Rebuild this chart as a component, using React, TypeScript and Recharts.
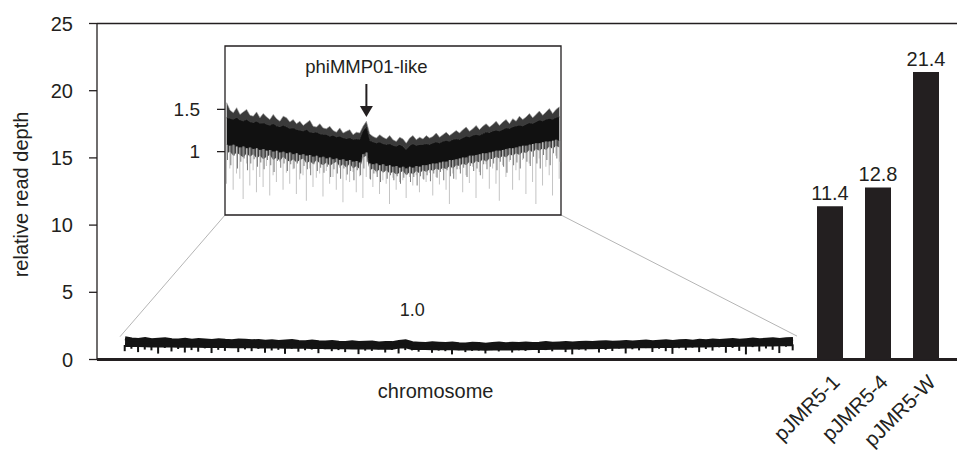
import {
  Area,
  Bar,
  BarChart,
  ComposedChart,
  LabelList,
  ReferenceArea,
  ReferenceDot,
  ReferenceLine,
  XAxis,
  YAxis,
} from 'recharts'

const INK = '#231f20'
const FONT = '"Liberation Sans", Arial, Helvetica, sans-serif'
const W = 957
const H = 451

// chromosome read depth in 101 bins along the chromosome
const fringeTop = [
  1.58, 1.49, 1.46, 1.52, 1.44, 1.47, 1.50, 1.43, 1.42, 1.47,
  1.40, 1.45, 1.41, 1.38, 1.44, 1.39, 1.36, 1.42, 1.40, 1.35,
  1.38, 1.33, 1.36, 1.31, 1.34, 1.37, 1.30, 1.29, 1.33, 1.28,
  1.27, 1.30, 1.25, 1.23, 1.28, 1.22, 1.24, 1.26, 1.20, 1.23,
  1.22, 1.30, 1.36, 1.21, 1.18, 1.16, 1.20, 1.17, 1.15, 1.19,
  1.14, 1.12, 1.17, 1.15, 1.10, 1.16, 1.19, 1.14, 1.17, 1.15,
  1.19, 1.16, 1.18, 1.22, 1.17, 1.20, 1.23, 1.19, 1.22, 1.25,
  1.22, 1.26, 1.29, 1.24, 1.27, 1.31, 1.26, 1.30, 1.33, 1.29,
  1.32, 1.36, 1.31, 1.35, 1.38, 1.33, 1.39, 1.36, 1.42, 1.38,
  1.41, 1.45, 1.40, 1.44, 1.48, 1.43, 1.47, 1.51, 1.45, 1.50,
  1.53,
]
const coreTop = [
  1.40, 1.39, 1.38, 1.40, 1.37, 1.36, 1.38, 1.35, 1.34, 1.36,
  1.33, 1.34, 1.32, 1.31, 1.33, 1.30, 1.29, 1.31, 1.29, 1.27,
  1.28, 1.26, 1.25, 1.24, 1.26, 1.23, 1.22, 1.23, 1.21, 1.20,
  1.20, 1.18, 1.19, 1.17, 1.18, 1.16, 1.15, 1.16, 1.14, 1.15,
  1.14, 1.24, 1.29, 1.13, 1.11, 1.10, 1.11, 1.09, 1.08, 1.09,
  1.07, 1.06, 1.08, 1.06, 1.02, 1.07, 1.09, 1.07, 1.08, 1.08,
  1.09, 1.08, 1.10, 1.11, 1.10, 1.12, 1.13, 1.12, 1.14, 1.15,
  1.14, 1.16, 1.18, 1.17, 1.19, 1.20, 1.19, 1.21, 1.23, 1.22,
  1.24, 1.25, 1.24, 1.26, 1.28, 1.27, 1.29, 1.30, 1.31, 1.30,
  1.32, 1.34, 1.33, 1.35, 1.37, 1.36, 1.38, 1.39, 1.38, 1.40,
  1.41,
]
const coreBottom = [
  1.08, 1.07, 1.08, 1.06, 1.05, 1.06, 1.04, 1.05, 1.03, 1.04,
  1.02, 1.03, 1.01, 1.02, 1.00, 1.01, 0.99, 1.00, 0.98, 0.99,
  0.97, 0.98, 0.96, 0.97, 0.95, 0.96, 0.94, 0.95, 0.93, 0.94,
  0.92, 0.93, 0.91, 0.92, 0.90, 0.91, 0.89, 0.90, 0.88, 0.89,
  0.87, 0.97, 0.99, 0.86, 0.85, 0.86, 0.84, 0.85, 0.83, 0.84,
  0.82, 0.83, 0.81, 0.82, 0.80, 0.82, 0.81, 0.83, 0.82, 0.84,
  0.84, 0.85, 0.86, 0.86, 0.87, 0.88, 0.88, 0.90, 0.90, 0.91,
  0.92, 0.93, 0.93, 0.95, 0.95, 0.96, 0.97, 0.98, 0.98, 0.99,
  1.00, 1.01, 1.01, 1.02, 1.03, 1.04, 1.04, 1.05, 1.06, 1.07,
  1.07, 1.08, 1.09, 1.10, 1.10, 1.11, 1.12, 1.12, 1.13, 1.14,
  1.13,
]
const shadowBottom = [
  0.98, 1.00, 0.95, 0.99, 0.96, 0.93, 0.98, 0.94, 0.97, 0.92,
  0.95, 0.91, 0.94, 0.96, 0.90, 0.93, 0.89, 0.94, 0.90, 0.88,
  0.91, 0.87, 0.90, 0.92, 0.86, 0.89, 0.85, 0.90, 0.86, 0.84,
  0.87, 0.83, 0.86, 0.88, 0.82, 0.85, 0.81, 0.86, 0.80, 0.83,
  0.79, 0.93, 0.95, 0.78, 0.80, 0.76, 0.79, 0.75, 0.78, 0.74,
  0.76, 0.73, 0.75, 0.77, 0.72, 0.76, 0.73, 0.77, 0.74, 0.78,
  0.76, 0.79, 0.77, 0.80, 0.78, 0.81, 0.79, 0.83, 0.80, 0.84,
  0.83, 0.86, 0.84, 0.88, 0.85, 0.89, 0.87, 0.91, 0.88, 0.92,
  0.91, 0.94, 0.92, 0.95, 0.93, 0.97, 0.95, 0.98, 0.96, 1.00,
  0.98, 1.02, 0.99, 1.03, 1.01, 1.04, 1.02, 1.06, 1.03, 1.07,
  1.05,
]
const spikeMid = [
  0.90, 0.84, 0.95, 0.80, 0.88, 0.92, 0.78, 0.86, 0.91, 0.82,
  0.87, 0.79, 0.90, 0.84, 0.76, 0.89, 0.81, 0.86, 0.77, 0.85,
  0.80, 0.86, 0.74, 0.83, 0.79, 0.72, 0.85, 0.77, 0.81, 0.75,
  0.82, 0.70, 0.79, 0.74, 0.68, 0.80, 0.73, 0.77, 0.66, 0.78,
  0.72, 0.80, 0.88, 0.67, 0.74, 0.70, 0.64, 0.76, 0.68, 0.72,
  0.66, 0.71, 0.62, 0.69, 0.73, 0.64, 0.70, 0.60, 0.71, 0.67,
  0.72, 0.65, 0.74, 0.69, 0.76, 0.66, 0.78, 0.71, 0.68, 0.79,
  0.74, 0.81, 0.70, 0.83, 0.77, 0.80, 0.72, 0.85, 0.79, 0.82,
  0.86, 0.78, 0.88, 0.82, 0.75, 0.90, 0.84, 0.87, 0.80, 0.92,
  0.88, 0.83, 0.94, 0.86, 0.80, 0.96, 0.90, 0.84, 0.98, 0.92,
  0.88,
]
const spikeLow = [
  0.62, 0.80, 0.55, 0.74, 0.68, 0.44, 0.86, 0.60, 0.78, 0.52,
  0.70, 0.58, 0.83, 0.48, 0.72, 0.64, 0.88, 0.55, 0.75, 0.62,
  0.79, 0.50, 0.67, 0.72, 0.42, 0.80, 0.58, 0.69, 0.74, 0.47,
  0.77, 0.62, 0.70, 0.55, 0.81, 0.40, 0.66, 0.64, 0.76, 0.52,
  0.71, 0.45, 0.70, 0.68, 0.58, 0.74, 0.50, 0.66, 0.62, 0.38,
  0.69, 0.55, 0.64, 0.66, 0.45, 0.70, 0.60, 0.72, 0.52, 0.68,
  0.64, 0.75, 0.48, 0.70, 0.61, 0.78, 0.55, 0.38, 0.74, 0.67,
  0.79, 0.52, 0.72, 0.63, 0.82, 0.45, 0.76, 0.68, 0.85, 0.56,
  0.80, 0.62, 0.42, 0.84, 0.70, 0.88, 0.55, 0.78, 0.66, 0.90,
  0.50, 0.86, 0.64, 0.38, 0.92, 0.60, 0.82, 0.72, 0.48, 0.95,
  0.68,
]

const plasmids = ['pJMR5-1', 'pJMR5-4', 'pJMR5-W']
const plasmidDepth = [11.4, 12.8, 21.4]

const depthTicks = [0, 5, 10, 15, 20, 25]
const insetTicks = [1, 1.5]
const phageBin = 42

const chromRows = fringeTop.map((top, i) => ({
  bin: i,
  top,
  coreTop: coreTop[i],
  coreBottom: coreBottom[i],
  shadow: shadowBottom[i],
  mid: spikeMid[i],
  low: spikeLow[i],
}))
const plasmidRows = plasmids.map((name, i) => ({ name, depth: plasmidDepth[i] }))

const textStyle = { fontFamily: FONT, fill: INK }

const DepthLabel = (props: any) => {
  const vb = props.viewBox || { x: 0, y: 23.5, width: 97, height: 336 }
  const cx = vb.x + 21
  const cy = vb.y + vb.height / 2 + 3
  return (
    <text
      x={cx}
      y={cy}
      transform={`rotate(-90, ${cx}, ${cy})`}
      textAnchor="middle"
      dominantBaseline="central"
      fontSize={20}
      {...textStyle}
    >
      relative read depth
    </text>
  )
}

const PlasmidTick = (props: any) => {
  const { x, y, payload } = props
  const tx = x + 11
  const ty = y + 22
  return (
    <text
      x={tx}
      y={ty}
      transform={`rotate(-45, ${tx}, ${ty})`}
      textAnchor="end"
      fontSize={20.5}
      {...textStyle}
    >
      {payload.value}
    </text>
  )
}

const MeanLabel = (props: any) => (
  <text x={props.cx} y={props.cy} dy="0.35em" textAnchor="middle" fontSize={18} {...textStyle}>
    1.0
  </text>
)

const PhageArrow = (props: any) => {
  const { cx, cy } = props
  return (
    <g>
      <text x={cx} y={cy - 44} textAnchor="middle" fontSize={18.5} {...textStyle}>
        phiMMP01-like
      </text>
      <line x1={cx} y1={cy - 33} x2={cx} y2={cy - 10} stroke={INK} strokeWidth={2} />
      <polygon points={`${cx - 6.5},${cy - 11} ${cx + 6.5},${cy - 11} ${cx},${cy}`} fill={INK} />
    </g>
  )
}

export default function App() {
  return (
    <div style={{ position: 'relative', width: W, height: H, background: '#fff' }}>
      <style>{'body{margin:0}'}</style>

      {/* main axes + whole chromosome trace */}
      <div style={{ position: 'absolute', left: 0, top: 0 }}>
        <ComposedChart
          width={W}
          height={H}
          data={chromRows}
          margin={{ top: 23.5, right: 0, bottom: 61.5, left: 0 }}
          barGap={0}
        >
          <XAxis
            dataKey="bin"
            type="number"
            domain={[-4.2, 124.55]}
            allowDataOverflow
            ticks={[46.5]}
            interval={0}
            tickFormatter={() => 'chromosome'}
            height={30}
            tickLine={false}
            tickSize={0}
            tickMargin={24}
            axisLine={{ stroke: INK, strokeWidth: 2.8 }}
            tick={{ fontSize: 20, ...textStyle }}
          />
          <YAxis
            domain={[0, 25]}
            ticks={depthTicks}
            interval={0}
            width={97}
            tickSize={8}
            tickMargin={16}
            axisLine={{ stroke: INK, strokeWidth: 1.3 }}
            tickLine={{ stroke: INK, strokeWidth: 1.3 }}
            tick={{ fontSize: 20, ...textStyle }}
            label={{ position: 'insideLeft', content: (p: any) => <DepthLabel {...p} /> }}
          />
          <ReferenceLine y={25} stroke={INK} strokeWidth={1.3} />
          <ReferenceLine
            segment={[{ x: -0.75, y: 1.7 }, { x: 14.97, y: 10.75 }]}
            stroke="#b5b5b5"
            strokeWidth={1}
            ifOverflow="visible"
          />
          <ReferenceLine
            segment={[{ x: 100.6, y: 1.74 }, { x: 65.27, y: 10.75 }]}
            stroke="#b5b5b5"
            strokeWidth={1}
            ifOverflow="visible"
          />
          <Bar
            dataKey={(d: any) => [d.low, d.coreBottom]}
            fill="#141414"
            barSize={2}
            isAnimationActive={false}
          />
          <Area
            dataKey={(d: any) => [d.coreBottom, d.top]}
            type="linear"
            fill="#141414"
            fillOpacity={1}
            stroke="#141414"
            strokeWidth={4}
            isAnimationActive={false}
          />
          <ReferenceDot x={43} y={3.68} r={0} shape={MeanLabel} ifOverflow="visible" />
        </ComposedChart>
      </div>

      {/* zoomed inset */}
      <div style={{ position: 'absolute', left: 0, top: 0 }}>
        <ComposedChart
          width={W}
          height={H}
          data={chromRows}
          margin={{ top: 46, right: 396, bottom: 236, left: 185 }}
          barGap={0}
        >
          <XAxis dataKey="bin" type="category" hide />
          <YAxis
            domain={[0.25, 2.25]}
            ticks={insetTicks}
            allowDataOverflow
            interval={0}
            width={40}
            tickSize={8}
            tickMargin={17}
            axisLine={false}
            tickLine={{ stroke: INK, strokeWidth: 1.3 }}
            tick={{ fontSize: 19, ...textStyle }}
          />
          <Bar
            dataKey={(d: any) => [d.low, d.coreBottom]}
            fill="#c4c4c4"
            barSize={1}
            isAnimationActive={false}
          />
          <Bar
            dataKey={(d: any) => [d.mid, d.coreBottom]}
            fill="#7a7a7a"
            barSize={1}
            isAnimationActive={false}
          />
          <Area
            dataKey={(d: any) => [d.shadow, d.coreBottom]}
            type="linear"
            fill="#3c3c3c"
            fillOpacity={1}
            stroke="none"
            isAnimationActive={false}
          />
          <Area
            dataKey={(d: any) => [d.coreTop, d.top]}
            type="linear"
            fill="#3a3a3a"
            fillOpacity={1}
            stroke="#9a9a9a"
            strokeWidth={0.6}
            isAnimationActive={false}
          />
          <Area
            dataKey={(d: any) => [d.coreBottom, d.coreTop]}
            type="linear"
            fill="#111"
            fillOpacity={1}
            stroke="#111"
            strokeWidth={0.8}
            isAnimationActive={false}
          />
          <ReferenceArea
            y1={0.25}
            y2={2.25}
            fill="none"
            stroke={INK}
            strokeWidth={1.3}
            ifOverflow="visible"
          />
          <ReferenceDot x={phageBin} y={1.41} r={0} shape={PhageArrow} ifOverflow="visible" />
        </ComposedChart>
      </div>

      {/* plasmid bars */}
      <div style={{ position: 'absolute', left: 0, top: 0 }}>
        <BarChart
          width={W}
          height={H}
          data={plasmidRows}
          margin={{ top: 23.5, right: 7, bottom: 61.5, left: 806 }}
        >
          <XAxis
            dataKey="name"
            height={30}
            interval={0}
            axisLine={false}
            tickLine={false}
            tickSize={0}
            tick={<PlasmidTick />}
          />
          <YAxis hide domain={[0, 25]} />
          <Bar dataKey="depth" fill={INK} barSize={26} isAnimationActive={false}>
            <LabelList
              dataKey="depth"
              position="top"
              offset={6}
              formatter={(v: any) => Number(v).toFixed(1)}
              fontSize={20}
              fontFamily={FONT}
              fill={INK}
            />
          </Bar>
        </BarChart>
      </div>
    </div>
  )
}
